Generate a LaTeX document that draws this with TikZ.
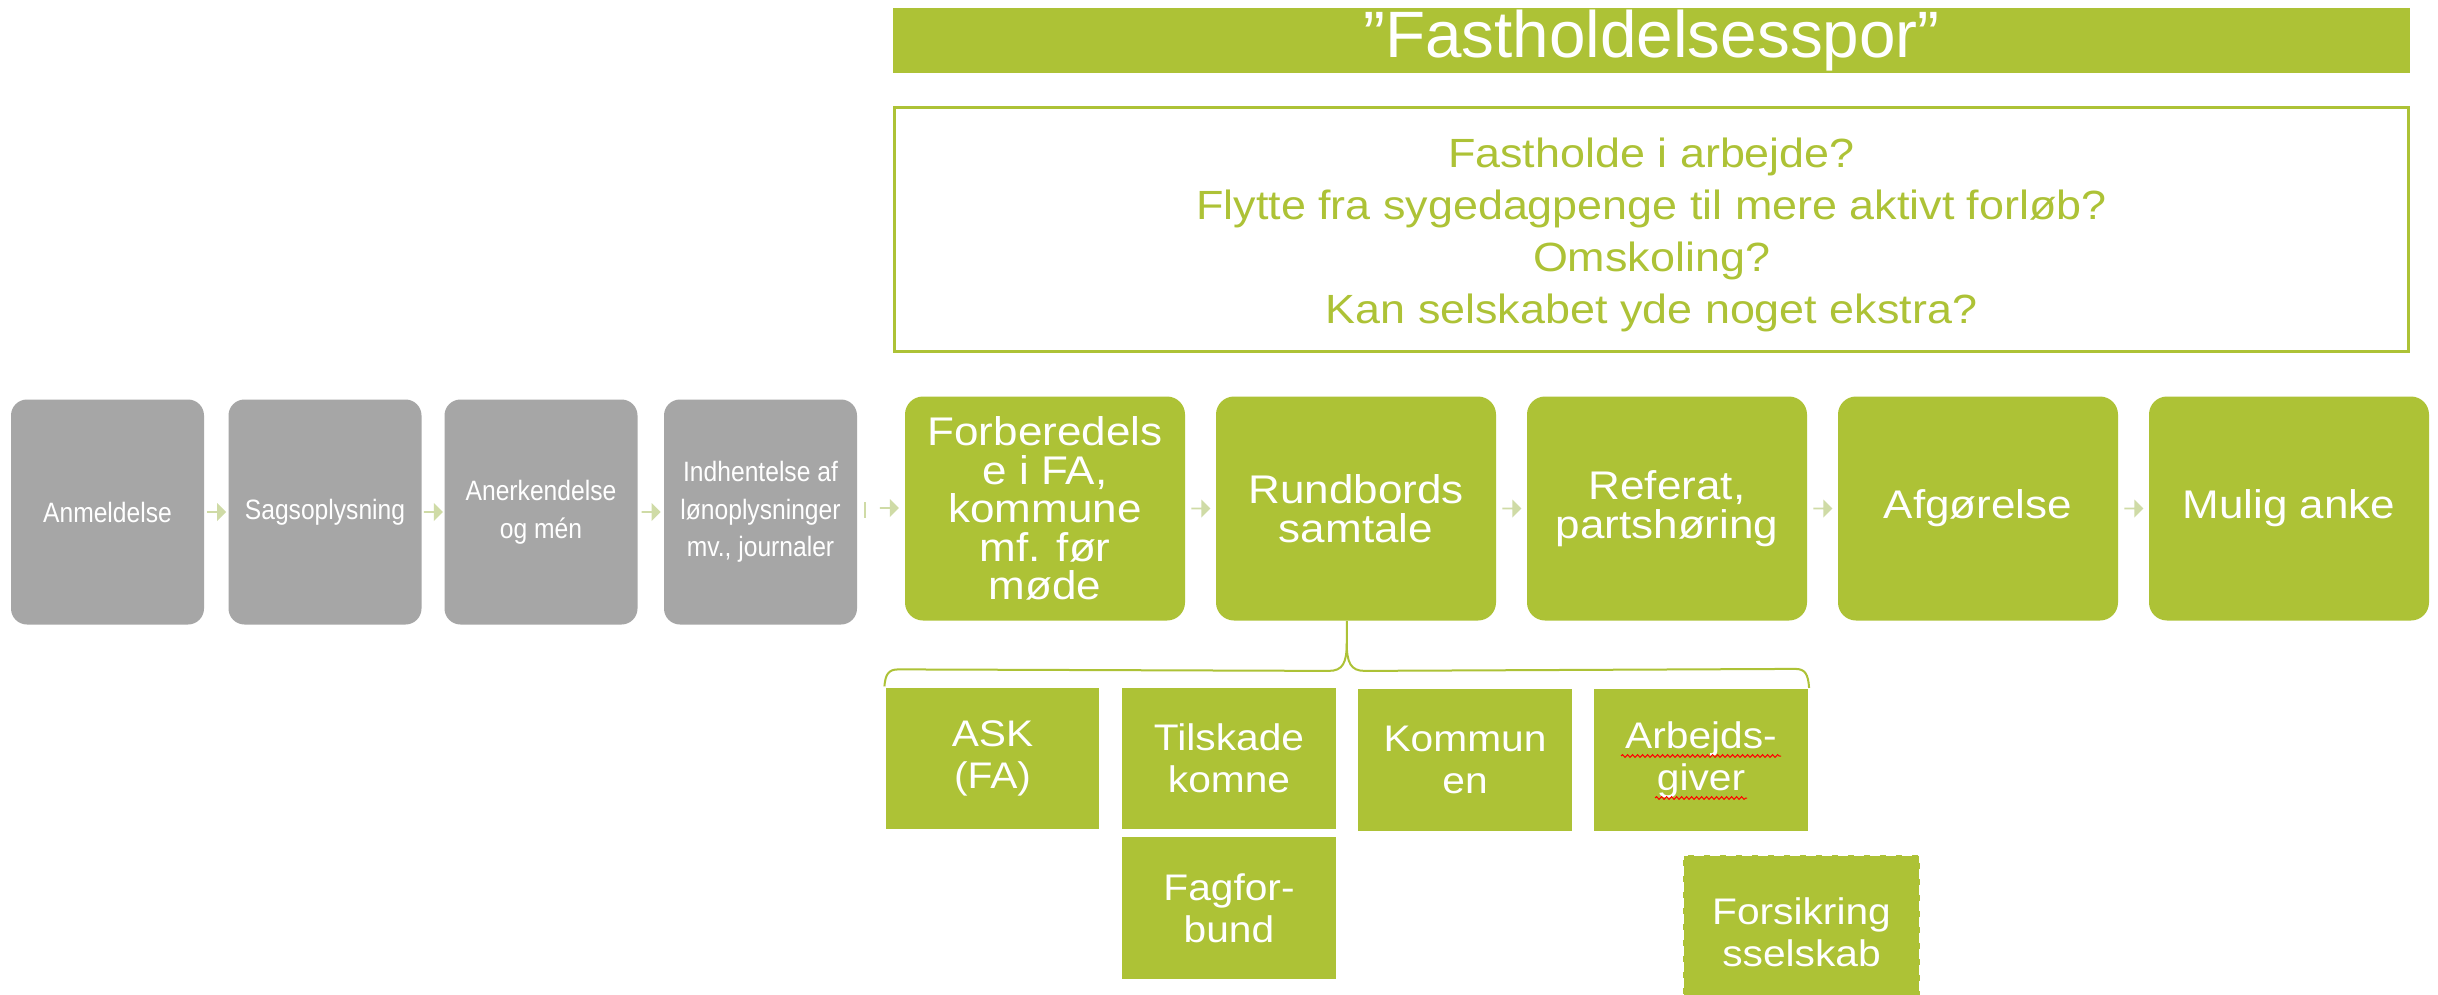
\documentclass[tikz,border=0pt]{standalone}
\usepackage{fontspec}
\setmainfont{Liberation Sans}
\newfontfamily\widefont[FakeStretch=1.1]{Liberation Sans}
\newfontfamily\narrowfont[FakeStretch=0.88]{Liberation Sans}
\usetikzlibrary{shapes.arrows,calc,decorations.pathmorphing}
\definecolor{lime}{RGB}{173,194,54}
\definecolor{greybox}{RGB}{166,166,166}
\definecolor{paleg}{RGB}{207,219,166}
\tikzset{
  procgrey/.style={fill=greybox, rounded corners=8pt, minimum width=96.5pt, minimum height=112.5pt,
    text=white, align=center, inner sep=2pt, font=\narrowfont\fontsize{14}{18.8}\selectfont},
  procgreen/.style={fill=lime, rounded corners=9pt, minimum width=140pt, minimum height=112pt,
    text=white, align=center, inner sep=2pt, font=\widefont\fontsize{20}{19.3}\selectfont},
  subbox/.style={fill=lime, draw=white, line width=0.6pt, minimum width=107.5pt, minimum height=71.5pt,
    text=white, align=center, inner sep=2pt, font=\widefont\fontsize{18.5}{21}\selectfont},
  flowarrow/.style={single arrow, fill=paleg, draw=none, minimum height=9.5pt, minimum width=9pt,
    single arrow head extend=2pt, inner sep=0pt},
  brace/.style={draw=lime, line width=1pt},
}
\begin{document}
\begin{tikzpicture}[x=0.5pt,y=-0.5pt]
\useasboundingbox (0,0) rectangle (2438,995);
\clip (0,0) rectangle (2438,995);
\fill[white] (0,0) rectangle (2438,995);

% header
\node[fill=lime, minimum width=758.5pt, minimum height=32.5pt, inner sep=0pt,
      text=white, font=\fontsize{32.8}{36}\selectfont] (title) at (1651.5,40.5) {\raisebox{-1.5pt}{”Fastholdelsesspor”}};
\node[draw=lime, line width=1.7pt, fill=white, minimum width=757pt, minimum height=122pt] (quest) at (1651.5,229.5) {};
\node[text=lime, align=center, font=\widefont\fontsize{20.4}{26}\selectfont] (qtext) at (1651.5,235)
  {Fastholde i arbejde?\\Flytte fra sygedagpenge til mere aktivt forløb?\\Omskoling?\\Kan selskabet yde noget ekstra?};

% process boxes
\node[procgrey] (p1) at (107.5,512) {Anmeldelse};
\node[procgrey] (p2) at (325,512) {Sagsoplysning};
\node[procgrey] (p3) at (541,512) {Anerkendelse\\og mén};
\node[procgrey] (p4) at (760.5,512) {Indhentelse af\\lønoplysninger\\mv., journaler};
\node[procgreen] (g1) at (1045,508.5) {Forberedels\\e i FA,\\kommune\\mf. før\\møde};
\node[procgreen] (g2) at (1356,508.5) {Rundbords\\samtale};
\node[procgreen] (g3) at (1667,508.5) {Referat,\\partshøring};
\node[procgreen] (g4) at (1978,508.5) {Afgørelse};
\node[procgreen] (g5) at (2289,508.5) {Mulig anke};

% flow arrows
\node[flowarrow] (a1) at ($(p1.east)!0.5!(p2.west)$) {};
\node[flowarrow] (a2) at ($(p2.east)!0.5!(p3.west)$) {};
\node[flowarrow] (a3) at ($(p3.east)!0.5!(p4.west)$) {};
\node[flowarrow] (a4) at (889,508) {};
\coordinate (tk) at (865,510);
\draw[paleg, line width=1.2pt] ($(tk)+(0,-8)$) -- ($(tk)+(0,8)$);
\node[flowarrow] (a5) at ($(g1.east)!0.5!(g2.west)$) {};
\node[flowarrow] (a6) at ($(g2.east)!0.5!(g3.west)$) {};
\node[flowarrow] (a7) at ($(g3.east)!0.5!(g4.west)$) {};
\node[flowarrow] (a8) at ($(g4.east)!0.5!(g5.west)$) {};

% participants
\node[subbox] (s1) at (992.5,758.5) {ASK\\(FA)};
\node[subbox] (s2) at (1229,758.5) {Tilskade\\komne};
\node[subbox] (s3) at (1465,760) {Kommun\\en};
\node[subbox] (s4) at (1701,760) {Arbejds-\\giver};
\node[subbox] (s5) at (1229,908) {Fagfor-\\bund};
\node[subbox, draw=white, line width=1.3pt, dash pattern=on 5pt off 3pt,
      minimum width=118.5pt, minimum height=77.5pt] (s6) at (1801.5,932.5) {Forsikring\\sselskab};

% spell-check underlines
\draw[red, line width=0.5pt, decorate, decoration={snake, amplitude=0.7pt, segment length=2.5pt}]
  ($(s4.center)+(-80,-4)$) -- ($(s4.center)+(80,-4)$);
\draw[red, line width=0.5pt, decorate, decoration={snake, amplitude=0.7pt, segment length=2.5pt}]
  ($(s4.center)+(-46,38)$) -- ($(s4.center)+(46,38)$);

% brace
\coordinate (bt) at ($(s1.north west)!0.5!(s4.north east)$);
\coordinate (stem) at (bt |- g2.south);
\draw[brace] (stem) -- ($(stem)+(0,22)$)
  .. controls ($(stem)+(0,42)$) and ($(stem)+(-4,50)$) .. ($(stem)+(-18,50)$)
  -- ($(s1.north west)+(14,-17)$)
  .. controls ($(s1.north west)+(4,-17)$) and ($(s1.north west)+(1,-12)$) .. (s1.north west);
\draw[brace] ($(stem)+(0,22)$)
  .. controls ($(stem)+(0,42)$) and ($(stem)+(4,50)$) .. ($(stem)+(18,50)$)
  -- ($(s4.north east)+(-14,-19)$)
  .. controls ($(s4.north east)+(-4,-19)$) and ($(s4.north east)+(-1,-14)$) .. (s4.north east);
\end{tikzpicture}
\end{document}
